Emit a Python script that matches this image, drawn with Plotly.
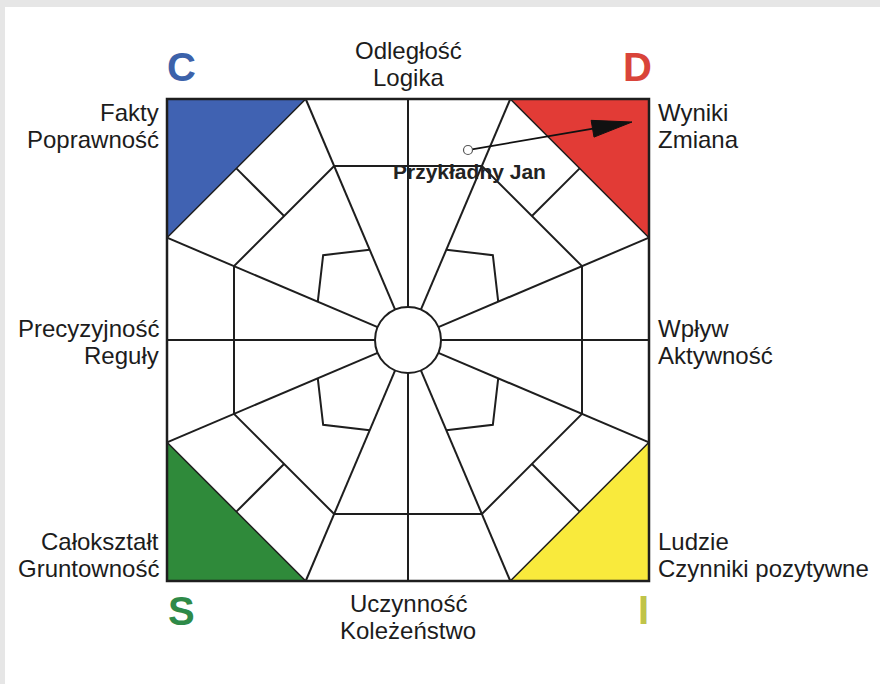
import math
import plotly.graph_objects as go

# ---------------- data ----------------
corner_letters = ["C", "D", "S", "I"]
corner_letter_colors = ["#3c62aa", "#d9443a", "#2e8a48", "#c0c449"]
corner_fill_colors = ["#4062b2", "#e23b36", "#2f8a3a", "#f9ea3c"]
corner_signs = [(-1, 1), (1, 1), (-1, -1), (1, -1)]  # (x, y) with y up

top_labels = ["Odległość", "Logika"]
bottom_labels = ["Uczynność", "Koleżeństwo"]
left_labels = [["Fakty", "Poprawność"], ["Precyzyjność", "Reguły"], ["Całokształt", "Gruntowność"]]
right_labels = [["Wyniki", "Zmiana"], ["Wpływ", "Aktywność"], ["Ludzie", "Czynniki pozytywne"]]

person_name = ["Przykładny Jan"]
person_start = [468, 150]   # pixel coords (x, y down)
person_end = [632, 122]

# ---------------- geometry parameters ----------------
W, Hpx = 880, 684
cx, cy = 408, 340
H = 241            # half side of square
r_circle = 33
offset = 23        # spoke offset from axes (deg)
apothem = 174
petal_r_spoke = 98
petal_r_diag = 120
LINE = "#1e1e1e"
LW = 2

def P(r, deg):
    t = math.radians(deg)
    return cx + r * math.cos(t), cy - r * math.sin(t)

shapes = []
# gray page border
shapes.append(dict(type="rect", xref="paper", yref="paper", x0=0, x1=1, y0=1 - 7 / Hpx, y1=1,
                   fillcolor="#e6e6e6", line_width=0, layer="below"))
shapes.append(dict(type="rect", xref="paper", yref="paper", x0=0, x1=5 / W, y0=0, y1=1,
                   fillcolor="#e6e6e6", line_width=0, layer="below"))

# corner triangles
tn = H * math.tan(math.radians(offset))
for (sx, sy), col in zip(corner_signs, corner_fill_colors):
    c = (cx + sx * H, cy - sy * H)
    a = (cx + sx * tn, cy - sy * H)
    b = (cx + sx * H, cy - sy * tn)
    path = f"M{c[0]},{c[1]} L{a[0]},{a[1]} L{b[0]},{b[1]} Z"
    shapes.append(dict(type="path", path=path, fillcolor=col, line=dict(color=LINE, width=1.5), layer="below"))

# spokes
spoke_angles = []
for ax in [0, 90, 180, 270]:
    spoke_angles += [ax - offset, ax, ax + offset]
for ang in spoke_angles:
    t = math.radians(ang)
    rb = H / max(abs(math.cos(t)), abs(math.sin(t)))
    x0, y0 = P(r_circle, ang)
    x1, y1 = P(rb, ang)
    shapes.append(dict(type="line", x0=x0, y0=y0, x1=x1, y1=y1, line=dict(color=LINE, width=LW), layer="below"))

# octagon
R_oct = apothem / math.cos(math.radians(offset))
oct_angles = sorted([(a + 360) % 360 for a in spoke_angles if a % 90 != 0])
pts = [P(R_oct, a) for a in oct_angles]
path = "M" + " L".join(f"{x},{y}" for x, y in pts) + " Z"
shapes.append(dict(type="path", path=path, line=dict(color=LINE, width=LW), layer="below"))

# diagonal short segments
d_in = R_oct * math.cos(math.radians(45 - offset))
d_out = H * (1 + math.tan(math.radians(offset))) / math.sqrt(2)
for d in [45, 135, 225, 315]:
    x0, y0 = P(d_in, d)
    x1, y1 = P(d_out, d)
    shapes.append(dict(type="line", x0=x0, y0=y0, x1=x1, y1=y1, line=dict(color=LINE, width=LW), layer="below"))

# petals
for d in [45, 135, 225, 315]:
    p1 = P(petal_r_spoke, d - 45 + offset)
    p2 = P(petal_r_diag, d)
    p3 = P(petal_r_spoke, d + 45 - offset)
    path = f"M{p1[0]},{p1[1]} L{p2[0]},{p2[1]} L{p3[0]},{p3[1]}"
    shapes.append(dict(type="path", path=path, line=dict(color=LINE, width=LW), layer="below"))

# square border
shapes.append(dict(type="rect", x0=cx - H, x1=cx + H, y0=cy - H, y1=cy + H,
                   line=dict(color=LINE, width=2.5), layer="below"))
# center circle
shapes.append(dict(type="circle", x0=cx - r_circle, x1=cx + r_circle, y0=cy - r_circle, y1=cy + r_circle,
                   fillcolor="white", line=dict(color=LINE, width=LW), layer="below"))

# arrow
sx_, sy_ = person_start
ex_, ey_ = person_end
L = math.hypot(ex_ - sx_, ey_ - sy_)
ux, uy = (ex_ - sx_) / L, (ey_ - sy_) / L
head_len, head_half = 40, 8.5
bx, by = ex_ - head_len * ux, ey_ - head_len * uy
nx, ny = -uy, ux
shapes.append(dict(type="line", x0=sx_ + 4 * ux, y0=sy_ + 4 * uy, x1=bx + 5 * ux, y1=by + 5 * uy,
                   line=dict(color="#111", width=1.8), layer="below"))
path = (f"M{ex_},{ey_} L{bx + head_half * nx},{by + head_half * ny} "
        f"L{bx - head_half * nx},{by - head_half * ny} Z")
shapes.append(dict(type="path", path=path, fillcolor="#111", line=dict(color="#111", width=1), layer="below"))

fig = go.Figure()
fig.add_trace(go.Scatter(x=[sx_], y=[sy_], mode="markers",
                         marker=dict(symbol="circle", size=9, color="white", line=dict(color="#555", width=1.2)),
                         hoverinfo="skip", showlegend=False))

ann = []
FONT = "Liberation Sans, Arial, sans-serif"
TXT = "#1c1c1c"
FS = 24
line_gap = 27

def label(text, x, y, anchor):
    ann.append(dict(text=text, x=x, y=y, xref="x", yref="y", showarrow=False, xanchor=anchor, yanchor="middle",
                    font=dict(family=FONT, size=FS, color=TXT)))

for i, t in enumerate(top_labels):
    label(t, cx, 50 + i * line_gap, "center")
for i, t in enumerate(bottom_labels):
    label(t, cx, 603 + i * line_gap, "center")
row_y = [112, 328, 541]
for ry, pair in zip(row_y, left_labels):
    for i, t in enumerate(pair):
        label(t, 161, ry + i * line_gap, "right")
for ry, pair in zip(row_y, right_labels):
    for i, t in enumerate(pair):
        label(t, 656, ry + i * line_gap, "left")

letter_pos = [(181, 67), (637, 67), (181, 611), (643, 610)]
for letter, col, (lx, ly) in zip(corner_letters, corner_letter_colors, letter_pos):
    ann.append(dict(text=f"<b>{letter}</b>", x=lx, y=ly, xref="x", yref="y", showarrow=False,
                    xanchor="center", yanchor="middle", font=dict(family=FONT, size=40, color=col)))

ann.append(dict(text=f"<b>{person_name[0]}</b>", x=469, y=171, xref="x", yref="y", showarrow=False,
                xanchor="center", yanchor="middle", font=dict(family=FONT, size=21, color="#222")))

fig.update_layout(
    width=W, height=Hpx, margin=dict(l=0, r=0, t=0, b=0),
    paper_bgcolor="white", plot_bgcolor="white",
    xaxis=dict(range=[0, W], visible=False, fixedrange=True),
    yaxis=dict(range=[Hpx, 0], visible=False, fixedrange=True),
    shapes=shapes, annotations=ann, showlegend=False,
)
fig.write_html("out.html", config=dict(displayModeBar=False),
               post_script="document.body.style.margin='0px';document.body.style.overflow='hidden';")
